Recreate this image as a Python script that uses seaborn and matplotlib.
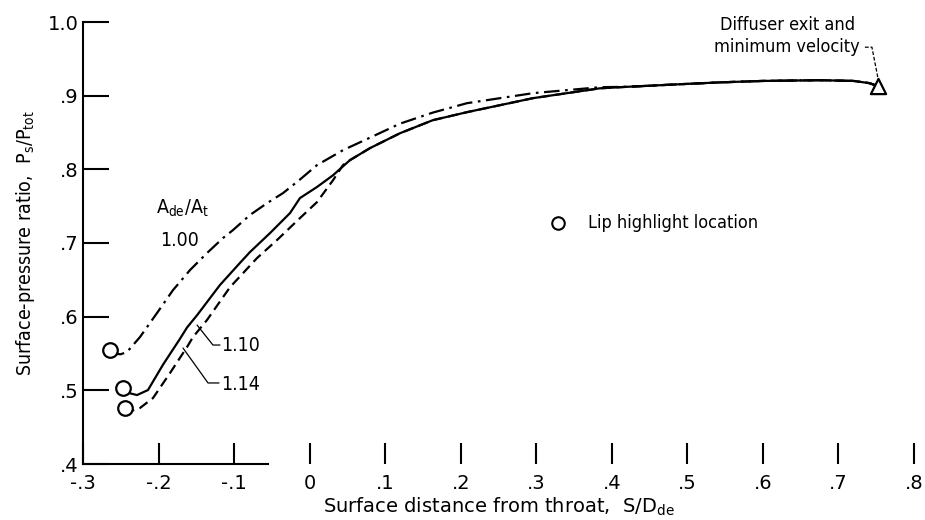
import matplotlib
matplotlib.use("Agg")
import matplotlib.pyplot as plt
import seaborn as sns

# curve for A_de/A_t = 1.00 (dash-dot)
x_100 = [-0.264, -0.257, -0.250, -0.2418, -0.2246, -0.202, -0.1809, -0.1584, -0.1359, -0.1147,
         -0.1015, -0.079, -0.0565, -0.0353, -0.013, 0.0097, 0.0441, 0.0799, 0.1196, 0.163,
         0.2083, 0.252, 0.2956, 0.3406, 0.3843, 0.42, 0.5, 0.542, 0.6, 0.675, 0.72, 0.741, 0.752]
y_100 = [0.555, 0.5495, 0.549, 0.552, 0.5723, 0.605, 0.636, 0.6632, 0.6863, 0.7067,
         0.7175, 0.738, 0.754, 0.7677, 0.786, 0.8057, 0.826, 0.843, 0.862, 0.877,
         0.8898, 0.8966, 0.9034, 0.9075, 0.9115, 0.912, 0.916, 0.918, 0.920, 0.921, 0.920, 0.917, 0.913]

# curve for 1.10 (solid)
x_110 = [-0.247, -0.238, -0.2285, -0.214, -0.194, -0.1716, -0.1623, -0.149, -0.1187, -0.0922,
         -0.079, -0.0525, -0.026, -0.0128, 0.0097, 0.031, 0.0534, 0.0799, 0.1196, 0.163, 0.2083,
         0.252, 0.2956, 0.3406, 0.3843, 0.42, 0.5, 0.542, 0.6, 0.675, 0.72, 0.741, 0.752]
y_110 = [0.503, 0.496, 0.4936, 0.5004, 0.535, 0.570, 0.5853, 0.602, 0.643, 0.673,
         0.6877, 0.7134, 0.7406, 0.761, 0.776, 0.792, 0.8125, 0.8288, 0.849, 0.8667, 0.8776,
         0.8871, 0.8966, 0.9034, 0.910, 0.912, 0.916, 0.918, 0.920, 0.921, 0.920, 0.917, 0.913]

# curve for 1.14 (dashed)
x_114 = [-0.2444, -0.236, -0.2246, -0.2073, -0.1848, -0.1623, -0.1544, -0.1359, -0.1054, -0.0697,
         -0.0432, -0.0128, 0.0097, 0.031, 0.0441, 0.0534, 0.0799, 0.1196, 0.163, 0.2083,
         0.252, 0.2956, 0.3406, 0.3843, 0.42, 0.5, 0.542, 0.6, 0.675, 0.72, 0.741, 0.752]
y_114 = [0.476, 0.472, 0.476, 0.4896, 0.5235, 0.5588, 0.5723, 0.5954, 0.640, 0.6795,
         0.704, 0.7338, 0.7555, 0.7853, 0.8057, 0.8125, 0.8288, 0.849, 0.8667, 0.8776,
         0.8871, 0.8966, 0.9034, 0.910, 0.912, 0.916, 0.918, 0.920, 0.921, 0.920, 0.917, 0.913]

# lip highlight points (start of each curve) and diffuser exit point
lip_x = [-0.264, -0.247, -0.2444]
lip_y = [0.555, 0.503, 0.476]
exit_x = [0.752]
exit_y = [0.913]

x_ticks = [-0.3, -0.2, -0.1, 0, 0.1, 0.2, 0.3, 0.4, 0.5, 0.6, 0.7, 0.8]
x_ticklabels = ['-.3', '-.2', '-.1', '0', '.1', '.2', '.3', '.4', '.5', '.6', '.7', '.8']
y_ticks = [0.4, 0.5, 0.6, 0.7, 0.8, 0.9, 1.0]
y_ticklabels = ['.4', '.5', '.6', '.7', '.8', '.9', '1.0']

sns.set_style('white')
plt.rcParams['font.family'] = ['DejaVu Sans Condensed', 'DejaVu Sans']
plt.rcParams['font.stretch'] = 'condensed'
plt.rcParams['mathtext.fontset'] = 'custom'
plt.rcParams['mathtext.rm'] = 'DejaVu Sans:stretch=condensed'
plt.rcParams['mathtext.default'] = 'regular'
plt.rcParams['font.size'] = 13
plt.rcParams['text.color'] = 'black'
plt.rcParams['axes.labelcolor'] = 'black'
plt.rcParams['xtick.color'] = 'black'
plt.rcParams['ytick.color'] = 'black'

fig = plt.figure(figsize=(9.25, 5.2), dpi=100)
ax = fig.add_axes([83 / 925, 1 - 464 / 520, 831 / 925, 442 / 520])

lw = 1.6
# draw the three curves
sns.lineplot(x=x_100, y=y_100, ax=ax, sort=False, estimator=None, color='black', lw=lw)
ax.lines[-1].set_dashes([7, 2.5, 1.2, 2.5])
sns.lineplot(x=x_110, y=y_110, ax=ax, sort=False, estimator=None, color='black', lw=lw)
sns.lineplot(x=x_114, y=y_114, ax=ax, sort=False, estimator=None, color='black', lw=lw)
ax.lines[-1].set_dashes([4.5, 2.5])

# markers
sns.scatterplot(x=lip_x, y=lip_y, ax=ax, marker='o', s=110, facecolor='white',
                edgecolor='black', linewidth=1.6, zorder=5)
sns.scatterplot(x=exit_x, y=exit_y, ax=ax, marker='^', s=120, facecolor='white',
                edgecolor='black', linewidth=1.6, zorder=5)

# annotations
ax.text(-0.168, 0.747, r'$A_{de}/A_t$', ha='center', va='center', fontsize=14)
ax.text(-0.172, 0.704, '1.00', ha='center', va='center', fontsize=14)

ax.plot([-0.149, -0.128, -0.1187], [0.5886, 0.5615, 0.5615], color='black', lw=0.9)
ax.text(-0.117, 0.5615, '1.10', ha='left', va='center', fontsize=14)
ax.plot([-0.1676, -0.1345, -0.12], [0.5574, 0.510, 0.510], color='black', lw=0.9)
ax.text(-0.117, 0.508, '1.14', ha='left', va='center', fontsize=14)

ax.plot([0.3287], [0.727], marker='o', ms=9, mfc='white', mec='black', mew=1.5)
ax.text(0.368, 0.727, 'Lip highlight location', ha='left', va='center', fontsize=13)

ax.text(0.632, 0.981, 'Diffuser exit and\nminimum velocity', ha='center', va='center',
        fontsize=13, linespacing=1.25)
ax.plot([0.735, 0.7443, 0.7523], [0.9658, 0.9658, 0.9237], color='black', lw=0.9,
        dashes=[3, 1.5])

# axes styling
ax.set_xlim(-0.3, 0.8)
ax.set_ylim(0.4, 1.0)
ax.set_xticks(x_ticks)
ax.set_xticklabels(x_ticklabels, family='DejaVu Sans', stretch='normal')
ax.set_yticks(y_ticks)
ax.set_yticklabels(y_ticklabels, family='DejaVu Sans', stretch='normal')
ax.tick_params(axis='x', bottom=True, direction='in', length=15, width=1.5, pad=7, labelsize=14)
ax.tick_params(axis='y', left=True, direction='in', length=19, width=1.5, pad=3, labelsize=14)

for side in ['top', 'right']:
    ax.spines[side].set_visible(False)
ax.spines['left'].set_linewidth(1.5)
ax.spines['bottom'].set_linewidth(1.5)
ax.spines['left'].set_color('black')
ax.spines['bottom'].set_color('black')
ax.spines['bottom'].set_bounds(-0.3, -0.055)

ax.set_xlabel(r'Surface distance from throat,  S/D$_{de}$', fontsize=14, labelpad=2,
              family='DejaVu Sans', stretch='normal')
ax.set_ylabel(r'Surface-pressure ratio,  P$_s$/P$_{tot}$', fontsize=14, labelpad=8)

fig.savefig('out.png', dpi=100)
